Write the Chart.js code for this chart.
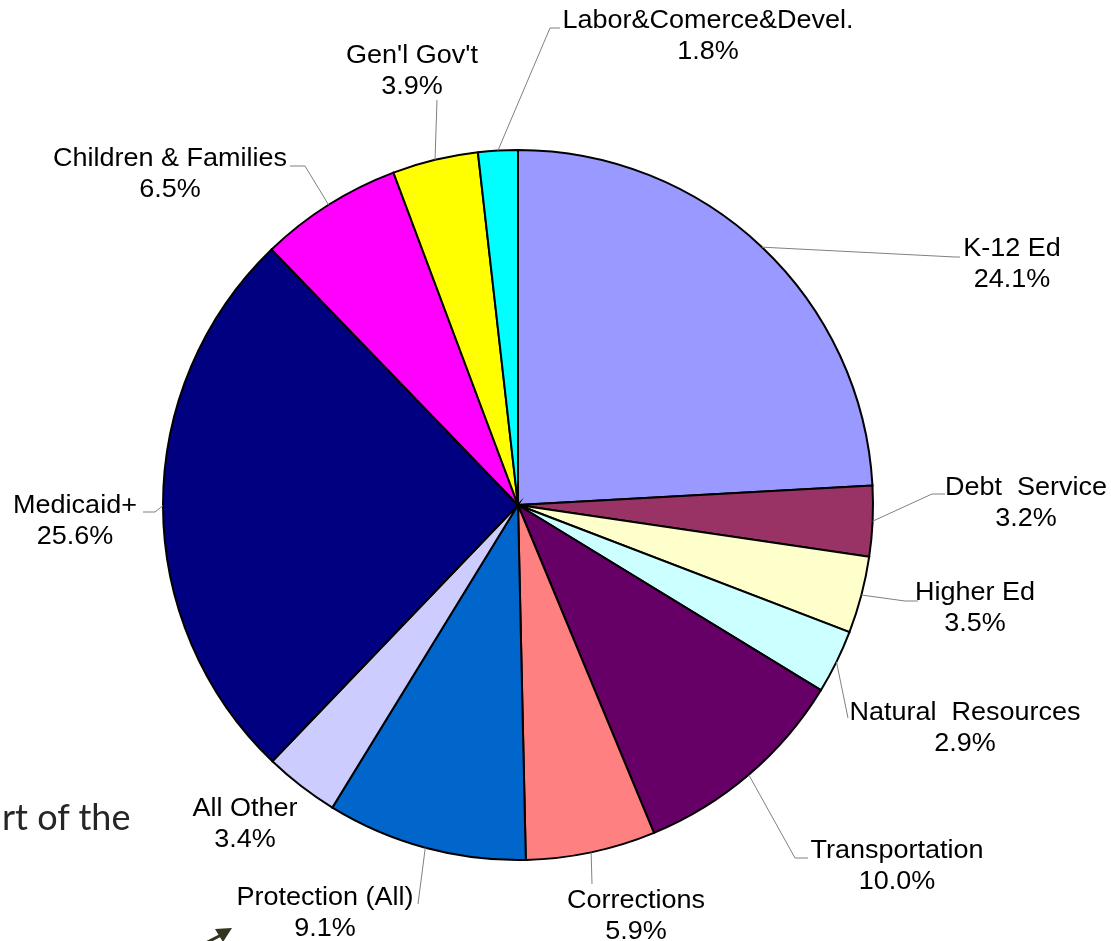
<!DOCTYPE html>
<html>
<head>
<meta charset="utf-8">
<script src="https://cdn.jsdelivr.net/npm/chart.js@4/dist/chart.umd.min.js"></script>
<style>
  html, body { margin: 0; padding: 0; background: #fff; overflow: hidden; }
  #wrap { position: relative; width: 1111px; height: 941px; }
  #slide-text {
    position: absolute; left: 2px; top: 794px;
    font-family: Lato, 'Open Sans', sans-serif; font-size: 36px; color: #262626;
    white-space: nowrap;
  }
</style>
</head>
<body>
<div id="wrap">
  <div id="slide-text">rt of the</div>
  <canvas id="budget-pie" width="1111" height="941"></canvas>
</div>
<script>
/* Fatias no sentido horário, a partir das 12h */
const CATEGORIES = ['K-12 Ed', 'Debt  Service', 'Higher Ed', 'Natural  Resources', 'Transportation',
                    'Corrections', 'Protection (All)', 'All Other', 'Medicaid+', 'Children & Families',
                    "Gen'l Gov't", 'Labor&Comerce&Devel.'];
const SHARES = [24.1, 3.2, 3.5, 2.9, 10.0, 5.9, 9.1, 3.4, 25.6, 6.5, 3.9, 1.8];
const COLORS = ['#9999ff', '#993366', '#ffffcc', '#ccffff', '#660066', '#ff8080',
                '#0066cc', '#ccccff', '#000080', '#ff00ff', '#ffff00', '#00ffff'];

/* posição dos rótulos e cotovelos das linhas-guia, relativa ao centro da pizza */
const LABEL_POS = [
  { t: [494, -256], p: [[437, -248], [442, -248]] },
  { t: [508, -17],  p: [[414, -11], [427, -11]] },
  { t: [457, 88],   p: [[387, 96], [400, 96]] },
  { t: [447, 208],  p: [[330, 213]] },
  { t: [379, 346],  p: [[277, 353], [290, 353]] },
  { t: [118, 396],  p: [[74, 379]] },
  { t: [-193, 393], p: [[-100, 399]] },
  { t: [-273, 304], p: null },
  { t: [-443, 1],   p: [[-363, 7], [-375, 7]] },
  { t: [-348, -346], p: [[-213, -339], [-228, -339]] },
  { t: [-106, -449], p: [[-81, -405]] },
  { t: [190, -484], p: [[32, -477], [42, -477]] }
];

(function () {
  'use strict';

  function stretchedText(ctx, txt, x, y) {
    /* o original está levemente esticado na horizontal */
    ctx.save();
    ctx.translate(x, y);
    ctx.scale(1.08, 1);
    ctx.fillText(txt, 0, 0);
    ctx.restore();
  }

  const labelPlugin = {
    id: 'leaderLabels',
    afterDatasetsDraw: function (chart) {
      const ctx = chart.ctx;
      const arcs = chart.getDatasetMeta(0).data;
      ctx.save();
      arcs.forEach(function (arc, i) {
        const cx = arc.x, cy = arc.y;
        const mid = (arc.startAngle + arc.endAngle) / 2;
        const lay = LABEL_POS[i];
        if (lay.p) {
          ctx.beginPath();
          ctx.strokeStyle = '#808080';
          ctx.lineWidth = 1;
          ctx.moveTo(cx + Math.cos(mid) * arc.outerRadius, cy + Math.sin(mid) * arc.outerRadius);
          lay.p.forEach(function (pt) { ctx.lineTo(cx + pt[0], cy + pt[1]); });
          ctx.stroke();
        }
        ctx.fillStyle = '#000';
        ctx.font = '25px "Liberation Sans", Arial, sans-serif';
        ctx.textAlign = 'center';
        ctx.textBaseline = 'middle';
        stretchedText(ctx, CATEGORIES[i], cx + lay.t[0], cy + lay.t[1]);
        stretchedText(ctx, SHARES[i].toFixed(1) + '%', cx + lay.t[0], cy + lay.t[1] + 31);
      });

      /* seta do slide, parcialmente cortada */
      ctx.strokeStyle = '#33331f';
      ctx.fillStyle = '#33331f';
      ctx.lineWidth = 3;
      ctx.beginPath();
      ctx.moveTo(200, 946);
      ctx.lineTo(225, 933);
      ctx.stroke();
      ctx.beginPath();
      ctx.moveTo(232, 928);
      ctx.lineTo(215, 929);
      ctx.lineTo(223, 942);
      ctx.closePath();
      ctx.fill();
      ctx.restore();
    }
  };

  new Chart(document.getElementById('budget-pie'), {
    type: 'pie',
    data: {
      labels: CATEGORIES,
      datasets: [{
        data: SHARES,
        backgroundColor: COLORS,
        borderColor: '#000',
        borderWidth: 2,
        borderJoinStyle: 'miter'
      }]
    },
    options: {
      responsive: false,
      animation: false,
      layout: { padding: { left: 162, right: 237, top: 149, bottom: 80 } },
      plugins: {
        legend: { display: false },
        tooltip: { enabled: false }
      }
    },
    plugins: [labelPlugin]
  });
})();
</script>
</body>
</html>
